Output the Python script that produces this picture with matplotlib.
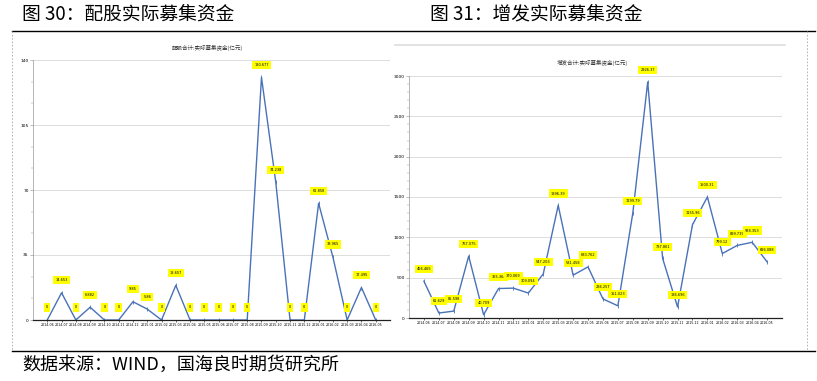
import matplotlib
matplotlib.use("Agg")
from matplotlib import pyplot as plt
from matplotlib.ticker import MultipleLocator
from matplotlib.lines import Line2D

plt.rcParams['font.family'] = ['Noto Sans CJK SC', 'DejaVu Sans']
NARROW = ['Liberation Sans Narrow', 'DejaVu Sans']

# months shared by both panels
months = ['2014-06', '2014-07', '2014-08', '2014-09', '2014-10', '2014-11',
          '2014-12', '2015-01', '2015-02', '2015-03', '2015-04', '2015-05',
          '2015-06', '2015-07', '2015-08', '2015-09', '2015-10', '2015-11',
          '2015-12', '2016-01', '2016-02', '2016-03', '2016-04', '2016-05']

# 配股实际募集资金 (亿元)
rights = [0, 14.653, 0, 6.882, 0, 0, 9.85, 5.86, 0, 18.657, 0, 0,
          0, 0, 0, 130.677, 74.238, 0, 0, 62.858, 33.965, 0, 17.495, 0]

# 增发实际募集资金 (亿元)
placement = [456.465, 61.629, 85.598, 767.075, 40.709, 365.364, 370.069, 309.094,
             547.203, 1396.388, 531.458, 633.762, 236.257, 151.023, 1299.794, 2926.367,
             737.861, 136.696, 1155.962, 1500.314, 799.12, 899.739, 938.353, 696.088]

LINE = '#4a72b8'

fig = plt.figure(figsize=(8.17, 3.81), dpi=100)
W, H = 817, 381


def px(x, y):
    return x / W, 1 - y / H


def draw(ax, vals, top, major, minor, lab_off):
    xs = range(len(vals))
    ax.plot(xs, vals, color=LINE, lw=1.0, marker='|', ms=3, mew=0.6)
    for x, v in zip(xs, vals):
        txt = f'{v:g}' if v else '0'
        ax.annotate(txt, (x, v), xytext=(0, lab_off), textcoords='offset points',
                    ha='center', va='center', fontsize=2.5, family=NARROW,
                    bbox=dict(boxstyle='square,pad=0.6', fc='#ffff00', ec='none'))
    ax.set_xlim(-1, 24)
    ax.set_ylim(0, top)
    ax.yaxis.set_major_locator(MultipleLocator(major))
    ax.yaxis.set_minor_locator(MultipleLocator(minor))
    ax.set_xticks(list(xs))
    ax.set_xticklabels(months, fontsize=2.3, family=NARROW)
    ax.tick_params(axis='y', labelsize=3.2, length=2, width=0.4, color='#888888', pad=1)
    ax.tick_params(axis='y', which='minor', length=1.2, width=0.3, color='#888888')
    ax.tick_params(axis='x', length=1.5, width=0.4, pad=1)
    for lab in ax.get_yticklabels():
        lab.set_family(NARROW)
    ax.grid(axis='y', color='#d8d8d8', lw=0.6)
    ax.set_axisbelow(True)
    for s in ['top', 'right']:
        ax.spines[s].set_visible(False)
    ax.spines['left'].set_color('#999999')
    ax.spines['left'].set_linewidth(0.5)
    ax.spines['bottom'].set_color('#222222')
    ax.spines['bottom'].set_linewidth(0.9)


ax1 = fig.add_axes([33 / W, 1 - 320 / H, (390 - 33) / W, (320 - 60) / H])
draw(ax1, rights, 140, 35, 35 / 3, 9)

ax2 = fig.add_axes([409 / W, 1 - 318 / H, (782 - 409) / W, (318 - 76) / H])
draw(ax2, placement, 3000, 500, 100, 8.5)

# inner chart titles
fig.text(*px(207, 48), '配股合计:实际募集资金(亿元)', fontsize=4, ha='center', va='center', color='#333333')
fig.text(*px(592, 63), '增发合计:实际募集资金(亿元)', fontsize=4, ha='center', va='center', color='#333333')

# headings and source
fig.text(*px(22, 14), '图 30：配股实际募集资金', fontsize=13.5, ha='left', va='center')
fig.text(*px(430, 14), '图 31：增发实际募集资金', fontsize=13.5, ha='left', va='center')
fig.text(*px(22, 365), '数据来源：WIND，国海良时期货研究所', fontsize=13, ha='left', va='center')

# frame lines
for x0, y0, x1, y1, c, ls, lw in [
        (12, 31, 815, 31, 'black', '-', 1.0),
        (12, 351, 815, 351, 'black', '-', 1.0),
        (12, 31, 12, 351, '#aaaaaa', (0, (2, 2)), 0.6),
        (807, 31, 807, 351, '#aaaaaa', (0, (2, 2)), 0.6),
        (395, 45, 785, 45, '#dddddd', '-', 1.2)]:
    (a, b), (c2, d) = px(x0, y0), px(x1, y1)
    fig.add_artist(Line2D([a, c2], [b, d], color=c, ls=ls, lw=lw, transform=fig.transFigure))

fig.savefig('out.png', dpi=100)
